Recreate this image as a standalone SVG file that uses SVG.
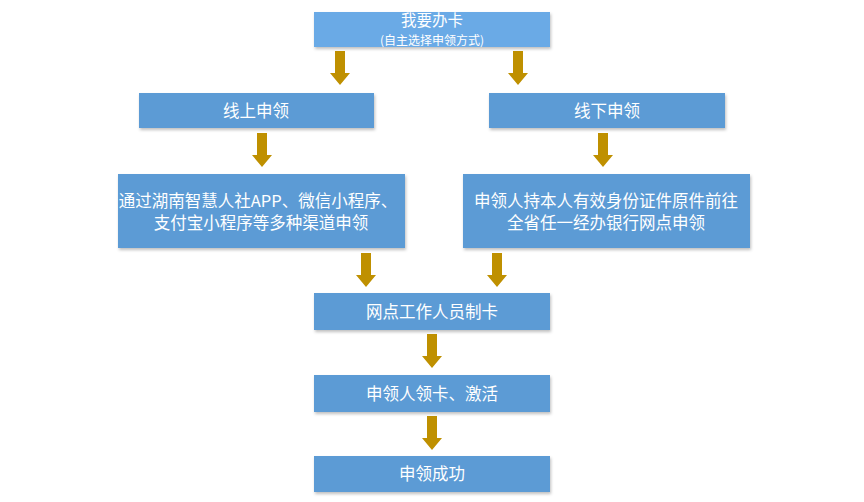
<svg xmlns="http://www.w3.org/2000/svg" width="864" height="502" viewBox="0 0 864 502">
<defs>
<style>
.box{fill:#5b9bd5;filter:url(#sh)}
.boxl{fill:#6aaae6;filter:url(#sh)}
text{font-family:"Noto Sans CJK SC","Liberation Sans",sans-serif;fill:#fff;text-anchor:middle}
.t{font-size:16.5px}
.h{font-size:15.5px}
.s{font-size:12px}
.arr{fill:#bf9000}
</style>
<filter id="sh" x="-5%" y="-20%" width="110%" height="150%">
<feDropShadow dx="1" dy="2" stdDeviation="1.5" flood-color="#000" flood-opacity="0.25"/>
</filter>
<path id="a" d="M-5,0 H5 V22 H10 L0,34 L-10,22 H-5 Z"/>
</defs>
<rect width="864" height="502" fill="#fff"/>
<g id="connectors">
<use href="#a" class="arr" x="340" y="51"/>
<use href="#a" class="arr" x="518" y="51"/>
<use href="#a" class="arr" x="262" y="133"/>
<use href="#a" class="arr" x="603" y="133"/>
<use href="#a" class="arr" x="366" y="253"/>
<use href="#a" class="arr" x="497" y="253"/>
<use href="#a" class="arr" x="432" y="334"/>
<use href="#a" class="arr" x="432" y="416"/>
</g>
<g id="n1"><rect class="boxl" x="314" y="12" width="236" height="35"/><text class="h" x="432" y="26">我要办卡</text><text class="s" x="432" y="45">(自主选择申领方式)</text></g>
<g id="n2"><rect class="box" x="139" y="93" width="235" height="35"/><text class="t" x="256" y="117">线上申领</text></g>
<g id="n3"><rect class="box" x="489" y="93" width="236" height="35"/><text class="t" x="607" y="117">线下申领</text></g>
<g id="n4"><rect class="box" x="118" y="174" width="287" height="74"/><text class="t" x="258" y="207">通过湖南智慧人社APP、微信小程序、</text><text class="t" x="261" y="229">支付宝小程序等多种渠道申领</text></g>
<g id="n5"><rect class="box" x="463" y="174" width="287" height="74"/><text class="t" x="606" y="207">申领人持本人有效身份证件原件前往</text><text class="t" x="606" y="229">全省任一经办银行网点申领</text></g>
<g id="n6"><rect class="box" x="314" y="293" width="236" height="37"/><text class="t" x="432" y="318">网点工作人员制卡</text></g>
<g id="n7"><rect class="box" x="314" y="375" width="236" height="37"/><text class="t" x="432" y="400">申领人领卡、激活</text></g>
<g id="n8"><rect class="box" x="314" y="456" width="236" height="36"/><text class="t" x="432" y="480">申领成功</text></g>
</svg>
